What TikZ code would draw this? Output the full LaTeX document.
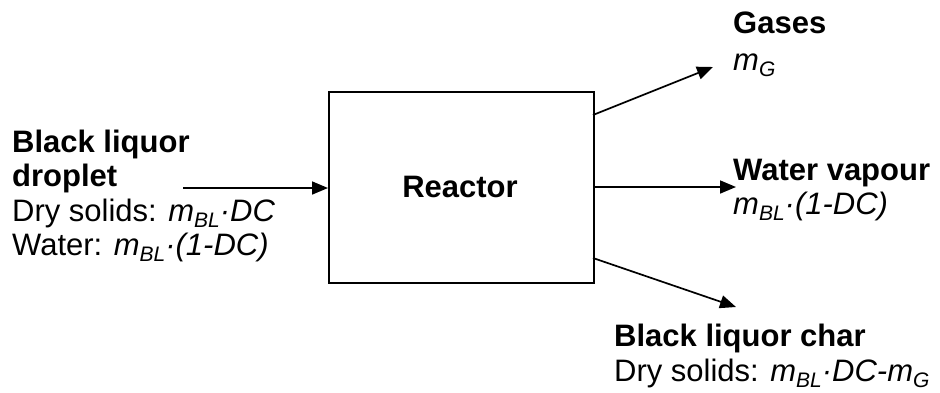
\documentclass[tikz,border=0pt]{standalone}
\usepackage{fontspec}
\setmainfont{Liberation Sans}
\usetikzlibrary{arrows.meta}
\tikzset{
  txt/.style={anchor=base west, inner sep=0pt, font=\fontsize{31}{36}\selectfont},
  bold/.style={txt, font=\fontsize{31}{36}\selectfont\bfseries},
  flow/.style={line width=1.7pt, -{Triangle[length=16pt,width=13pt]}},
  boxst/.style={draw, line width=2pt, inner sep=0pt, minimum width=265pt, minimum height=191pt, anchor=north west}
}
\newcommand{\mv}[1]{\textit{m}\raisebox{-0.22em}{\fontsize{21}{24}\selectfont\textit{#1}}}
\begin{document}
\begin{tikzpicture}[x=1pt,y=-1pt]
\useasboundingbox (0,0) rectangle (940,392);
% reactor
\node[boxst] (box) at (328,91) {};
\node[anchor=base, inner sep=0pt, font=\fontsize{31}{36}\selectfont\bfseries] (lbl) at (460,197) {Reactor};
% input texts
\node[bold] (in1) at (12,152) {Black liquor};
\node[bold] (in2) at (12,186) {droplet};
\node[txt] (in3) at (12,221) {Dry solids: \mv{BL}\textit{·DC}};
\node[txt] (in4) at (12,255) {Water: \mv{BL}\textit{·(1-DC)}};
% output texts
\node[bold] (g1) at (733,33) {Gases};
\node[txt] (g2) at (733,70) {\mv{G}};
\node[bold] (w1) at (733,180) {Water vapour};
\node[txt] (w2) at (733,214) {\mv{BL}\textit{·(1-DC)}};
\node[bold] (c1) at (614,346) {Black liquor char};
\node[txt] (c2) at (614,381) {Dry solids: \mv{BL}\textit{·DC-}\mv{G}};
% arrow ends
\coordinate (inS) at (183,188);
\coordinate (gS) at (593,115);
\coordinate (gE) at (713,67);
\coordinate (wS) at (593,187);
\coordinate (wE) at (736,187);
\coordinate (cS) at (593,258);
\coordinate (cE) at (736,307);
\draw[flow] (inS) -- (inS -| box.west);
\draw[flow] (gS) -- (gE);
\draw[flow] (wS) -- (wE);
\draw[flow] (cS) -- (cE);
\end{tikzpicture}
\end{document}
